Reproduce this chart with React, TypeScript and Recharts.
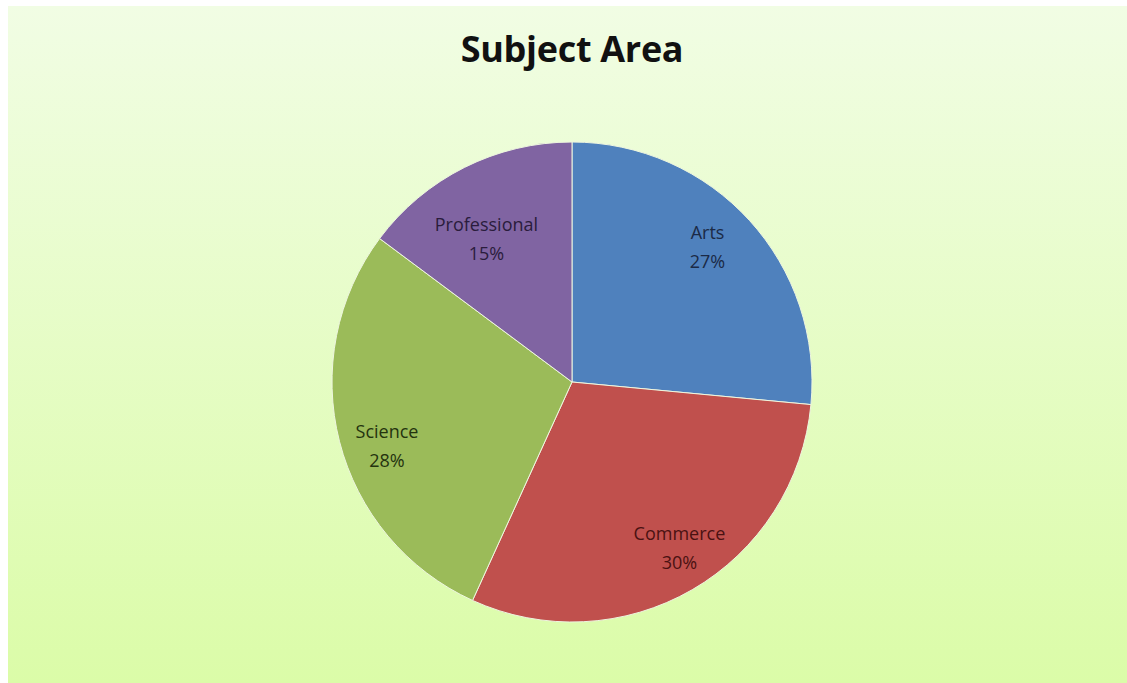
import React from 'react';
import { PieChart, Pie, Cell } from 'recharts';

const subjects = ['Arts', 'Commerce', 'Science', 'Professional'];
const shares = [26.5, 30.3, 28.4, 14.8];

const colors = ['#4F81BD', '#C0504D', '#9BBB59', '#8064A2'];
const labelColors = ['#1b2a46', '#4a1212', '#24330f', '#2a1c3c'];
// Excel's "best fit" pulls the small slice's label a bit inward
const labelRadiusFactor: Record<string, number> = { Professional: 0.71 };

const chartData = subjects.map((name, i) => ({ name, value: shares[i] }));

const RADIAN = Math.PI / 180;

const renderLabel = (props: any) => {
  const { cx, cy, midAngle, outerRadius, index, name, percent } = props;
  const r = outerRadius * (labelRadiusFactor[name] ?? 0.81);
  const a = (midAngle + 3.5) * RADIAN;
  const x = cx + r * Math.cos(-a);
  const y = cy + r * Math.sin(-a);
  return (
    <text
      x={x}
      y={y}
      textAnchor="middle"
      fill={labelColors[index % labelColors.length]}
      fontFamily="'Open Sans', sans-serif"
      fontSize={18}
    >
      <tspan x={x} dy={-4}>{name}</tspan>
      <tspan x={x} dy={29}>{`${Math.round(percent * 100)}%`}</tspan>
    </text>
  );
};

const App = () => {
  return (
    <div
      style={{
        position: 'absolute',
        left: 8,
        top: 6,
        width: 1119,
        height: 677,
        background: 'linear-gradient(to bottom, #f1fde4 0%, #dbfca8 100%)',
      }}
    >
      <div
        style={{
          position: 'absolute',
          top: 18,
          left: 0,
          width: 1128,
          textAlign: 'center',
          fontFamily: "'Open Sans', sans-serif",
          fontWeight: 700,
          fontSize: 36,
          color: '#111',
          letterSpacing: -0.3,
        }}
      >
        Subject Area
      </div>
      <PieChart width={1119} height={677} margin={{ top: 0, right: 0, bottom: 0, left: 0 }}>
        <Pie
          data={chartData}
          dataKey="value"
          nameKey="name"
          cx={564}
          cy={376}
          outerRadius={240}
          startAngle={90}
          endAngle={-270}
          stroke="#eef6e0"
          strokeWidth={1}
          labelLine={false}
          label={renderLabel}
          isAnimationActive={false}
        >
          {chartData.map((entry, index) => (
            <Cell key={`cell-${index}`} fill={colors[index % colors.length]} />
          ))}
        </Pie>
      </PieChart>
    </div>
  );
};

export default App;
